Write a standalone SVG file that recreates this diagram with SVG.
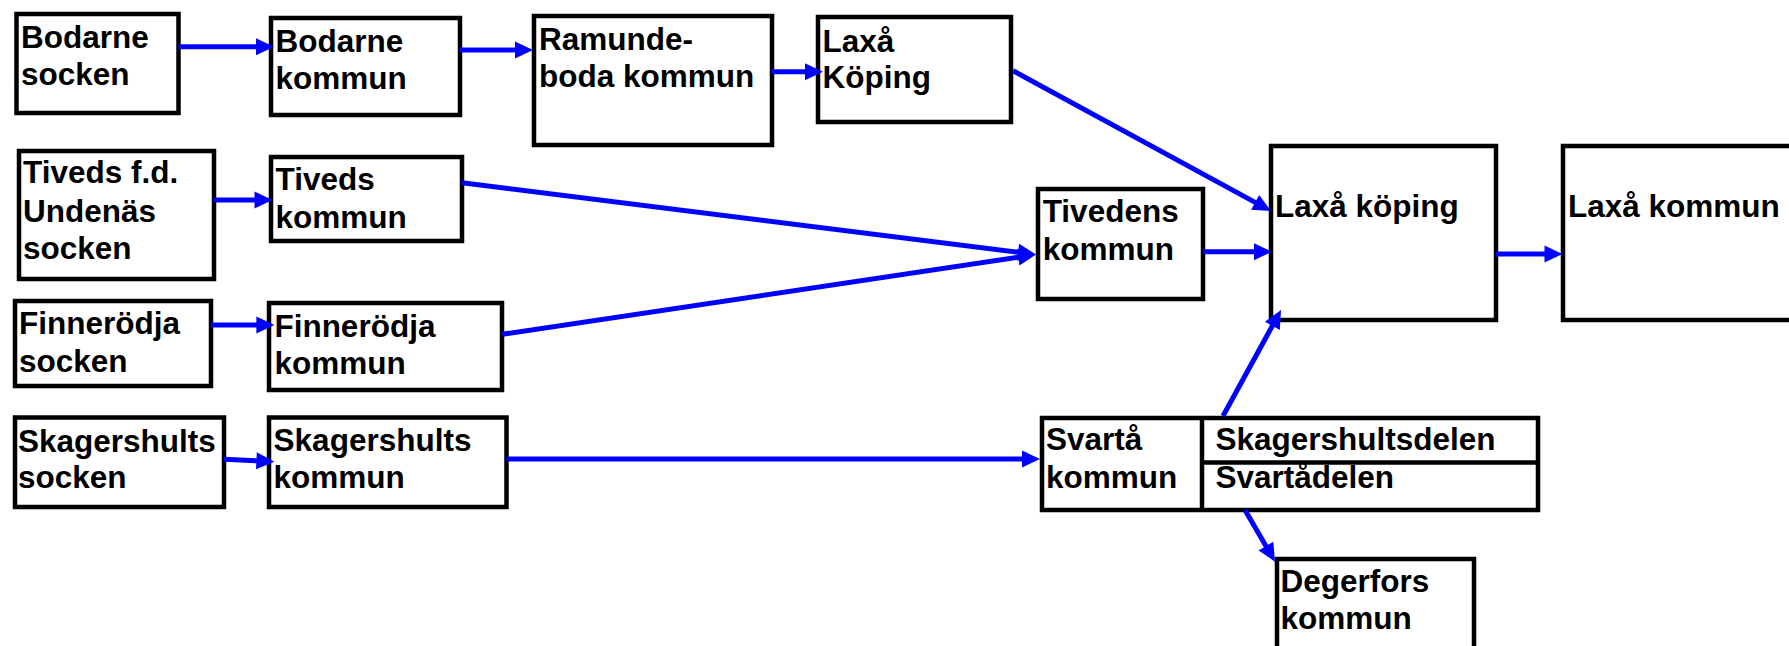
<svg xmlns="http://www.w3.org/2000/svg" width="1789" height="646" viewBox="0 0 1789 646">
<style>
.box{fill:#fff;stroke:#000;stroke-width:4.5}
.div{stroke:#000;stroke-width:4.5;fill:none}
.t{font-family:"Liberation Sans",Arial,sans-serif;font-weight:bold;font-size:31.5px;fill:#000}
.c{stroke:#0000ff;stroke-width:5;fill:none;marker-end:url(#ah)}
</style>
<defs>
<marker id="ah" markerUnits="userSpaceOnUse" markerWidth="18" markerHeight="17" refX="12" refY="8.5" orient="auto" overflow="visible">
<path d="M0,0 L18,8.5 L0,17 Z" fill="#0000ff"/>
</marker>
</defs>
<rect width="1789" height="646" fill="#fff"/>
<g id="n-bodarne-socken"><rect class="box" x="16.5" y="14" width="162" height="99"/><text class="t" x="21" y="48.3">Bodarne</text><text class="t" x="21" y="85">socken</text></g>
<g id="n-bodarne-kommun"><rect class="box" x="271" y="18" width="189" height="97"/><text class="t" x="275.5" y="51.7">Bodarne</text><text class="t" x="275.5" y="89.3">kommun</text></g>
<g id="n-ramundeboda"><rect class="box" x="534" y="16" width="238" height="129"/><text class="t" x="539" y="50">Ramunde-</text><text class="t" x="539" y="86.7">boda kommun</text></g>
<g id="n-laxa-koping-1"><rect class="box" x="818" y="17" width="193" height="105"/><text class="t" x="822.6" y="51.7">Laxå</text><text class="t" x="822.6" y="88.3">Köping</text></g>
<g id="n-tiveds-socken"><rect class="box" x="19" y="151" width="195" height="128"/><text class="t" x="23" y="183">Tiveds f.d.</text><text class="t" x="23" y="221.7">Undenäs</text><text class="t" x="23" y="259.3">socken</text></g>
<g id="n-tiveds-kommun"><rect class="box" x="271" y="157" width="191" height="84"/><text class="t" x="275.5" y="190">Tiveds</text><text class="t" x="275.5" y="228.3">kommun</text></g>
<g id="n-finnerodja-socken"><rect class="box" x="15" y="301" width="196" height="85"/><text class="t" x="19" y="334.3">Finnerödja</text><text class="t" x="19" y="371.7">socken</text></g>
<g id="n-finnerodja-kommun"><rect class="box" x="269" y="303" width="233" height="87"/><text class="t" x="274.4" y="336.7">Finnerödja</text><text class="t" x="274.4" y="374.3">kommun</text></g>
<g id="n-skagershults-socken"><rect class="box" x="15" y="417.5" width="209" height="89.5"/><text class="t" x="18" y="451.7">Skagershults</text><text class="t" x="18" y="488.3">socken</text></g>
<g id="n-skagershults-kommun"><rect class="box" x="269" y="417.5" width="237.5" height="89.5"/><text class="t" x="273.6" y="450.5">Skagershults</text><text class="t" x="273.6" y="488.3">kommun</text></g>
<g id="n-tivedens-kommun"><rect class="box" x="1038" y="189" width="165" height="110"/><text class="t" x="1042.7" y="221.7">Tivedens</text><text class="t" x="1042.7" y="260">kommun</text></g>
<g id="n-laxa-koping"><rect class="box" x="1271" y="146" width="225" height="174"/><text class="t" x="1275" y="217.3">Laxå köping</text></g>
<g id="n-laxa-kommun"><rect class="box" x="1563" y="146" width="240" height="174"/><text class="t" x="1568" y="217.3">Laxå kommun</text></g>
<g id="n-svarta-kommun"><rect class="box" x="1042" y="418" width="496" height="92"/><line class="div" x1="1202" y1="418" x2="1202" y2="510"/><line class="div" x1="1202" y1="462.5" x2="1538" y2="462.5"/><text class="t" x="1046" y="450">Svartå</text><text class="t" x="1046" y="488.3">kommun</text><text class="t" x="1215.5" y="450">Skagershultsdelen</text><text class="t" x="1215.5" y="487.7">Svartådelen</text></g>
<g id="n-degerfors"><rect class="box" x="1277" y="559" width="197" height="120"/><text class="t" x="1280.5" y="591.7">Degerfors</text><text class="t" x="1280.5" y="629.3">kommun</text></g>
<g id="connectors">
<line class="c" x1="178.5" y1="46.7" x2="268" y2="46.7"/>
<line class="c" x1="460" y1="50" x2="527" y2="50"/>
<line class="c" x1="772" y1="71.7" x2="817" y2="71.7"/>
<line class="c" x1="1013" y1="70.7" x2="1265.7" y2="208.1"/>
<line class="c" x1="214" y1="200" x2="266.5" y2="200"/>
<line class="c" x1="462" y1="182.7" x2="1030" y2="253.75"/>
<line class="c" x1="502" y1="334.3" x2="1030.1" y2="255.4"/>
<line class="c" x1="1203" y1="251.7" x2="1266" y2="251.7"/>
<line class="c" x1="211" y1="325" x2="268.4" y2="325"/>
<line class="c" x1="224" y1="459.3" x2="268.4" y2="461.4"/>
<line class="c" x1="506.5" y1="459" x2="1034" y2="459"/>
<line class="c" x1="1223" y1="416" x2="1278.1" y2="315.3"/>
<line class="c" x1="1496" y1="254" x2="1556.5" y2="254"/>
<line class="c" x1="1245" y1="510" x2="1272" y2="556.5"/>
</g>
</svg>
